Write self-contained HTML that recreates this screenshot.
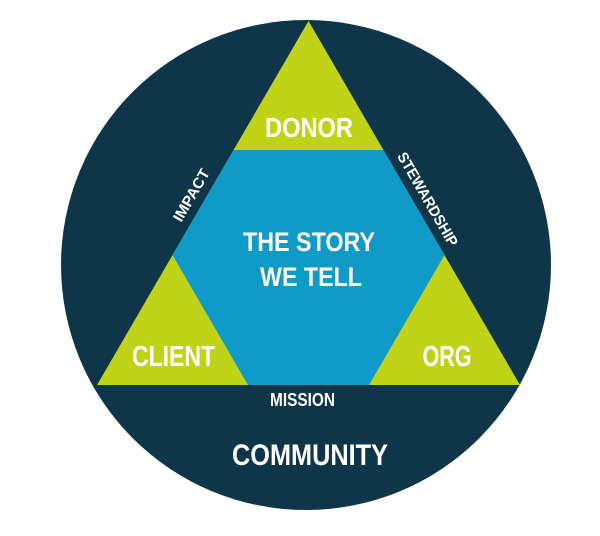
<!DOCTYPE html>
<html>
<head>
<meta charset="utf-8">
<style>
  html, body { margin: 0; padding: 0; background: #ffffff; }
  body { width: 600px; height: 536px; overflow: hidden; }
  svg { display: block; }
  text { font-family: "Liberation Sans", "DejaVu Sans", sans-serif; font-weight: bold; fill: #ffffff; }
</style>
</head>
<body>
<svg width="600" height="536" viewBox="0 0 600 536" xmlns="http://www.w3.org/2000/svg">
  <rect width="600" height="536" fill="#ffffff"/>
  <!-- outer community circle -->
  <circle cx="306" cy="265" r="245" fill="#0e3648"/>
  <!-- big triangle in lime -->
  <polygon points="308.5,21 97,385 520,385" fill="#c0d318"/>
  <!-- central hexagon blue -->
  <polygon points="233.5,150 383.5,150 444.5,255 369,385 248,385 172.5,255" fill="#0f9ac7"/>

  <!-- labels -->
  <text x="309" y="137" font-size="28" text-anchor="middle" textLength="88" lengthAdjust="spacingAndGlyphs">DONOR</text>
  <text x="309" y="251" font-size="27" text-anchor="middle" textLength="132" lengthAdjust="spacingAndGlyphs">THE STORY</text>
  <text x="311" y="286" font-size="27" text-anchor="middle" textLength="102" lengthAdjust="spacingAndGlyphs">WE TELL</text>
  <text x="173.5" y="366" font-size="29" text-anchor="middle" textLength="83" lengthAdjust="spacingAndGlyphs">CLIENT</text>
  <text x="447" y="366" font-size="29" text-anchor="middle" textLength="49" lengthAdjust="spacingAndGlyphs">ORG</text>
  <text x="302.5" y="406" font-size="18" text-anchor="middle" textLength="65" lengthAdjust="spacingAndGlyphs">MISSION</text>
  <text x="310" y="465" font-size="30" text-anchor="middle" textLength="156" lengthAdjust="spacingAndGlyphs">COMMUNITY</text>

  <g transform="translate(191,195) rotate(-60)">
    <text x="0" y="5.5" font-size="15" text-anchor="middle" textLength="58" lengthAdjust="spacingAndGlyphs">IMPACT</text>
  </g>
  <g transform="translate(428,199) rotate(60)">
    <text x="0" y="5.5" font-size="15" text-anchor="middle" textLength="106" lengthAdjust="spacingAndGlyphs">STEWARDSHIP</text>
  </g>
</svg>
</body>
</html>
